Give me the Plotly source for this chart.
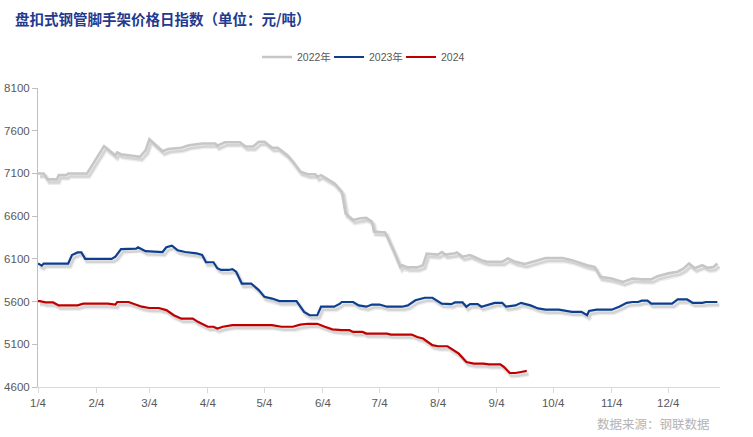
import pandas as pd
import plotly.graph_objects as go

# ---------------- data ----------------
BASE_YEAR = "2023"   # common month/day axis

dates_2022 = ["01-04","01-07","01-09","01-14","01-15","01-19","01-20","01-30","02-08","02-14",
              "02-15","02-17","02-27","03-02","03-04","03-11","03-14","03-21","03-25","04-01",
              "04-08","04-09","04-13","04-21","04-24","04-28","05-01","05-04","05-08","05-11",
              "05-16","05-19","05-23","05-27","05-31","06-01","06-03","06-06","06-10","06-14",
              "06-16","06-20","06-24","06-27","06-30","07-01","07-07","07-12","07-15","07-16",
              "07-19","07-24","07-27","07-29","08-04","08-06","08-08","08-13","08-14","08-17",
              "08-21","08-27","08-30","09-07","09-10","09-14","09-19","09-26","09-30","10-09",
              "10-14","10-22","10-26","10-29","11-04","11-10","11-15","11-20","11-25","11-28",
              "12-04","12-09","12-12","12-15","12-18","12-22","12-25","12-28","12-30"]
values_2022 = [7100, 7100, 7030, 7030, 7080, 7080, 7100, 7100, 7420, 7310,
               7345, 7325, 7295, 7370, 7500, 7360, 7385, 7400, 7430, 7450,
               7450, 7425, 7465, 7465, 7415, 7415, 7470, 7470, 7400, 7400,
               7315, 7240, 7120, 7090, 7090, 7060, 7080, 7040, 6985, 6885,
               6630, 6555, 6575, 6580, 6535, 6420, 6410, 6165, 6005, 6025,
               6000, 6000, 6025, 6160, 6150, 6180, 6150, 6165, 6175, 6125,
               6145, 6085, 6065, 6065, 6105, 6065, 6040, 6085, 6110, 6110,
               6085, 6025, 6005, 5890, 5870, 5830, 5870, 5860, 5860, 5895,
               5930, 5950, 5985, 6045, 5990, 6025, 5995, 6005, 6045]

dates_2023 = ["01-04","01-06","01-07","01-20","01-22","01-25","01-27","01-29","02-12","02-14",
              "02-17","02-25","02-26","03-02","03-11","03-13","03-16","03-19","03-23","03-29",
              "04-01","04-03","04-07","04-09","04-11","04-15","04-17","04-19","04-22","04-27",
              "05-01","05-04","05-08","05-12","05-21","05-23","05-25","05-28","06-01","06-03",
              "06-10","06-13","06-14","06-20","06-23","06-27","06-30","07-04","07-06","07-08",
              "07-16","07-19","07-23","07-28","08-01","08-03","08-06","08-11","08-13","08-17",
              "08-19","08-21","08-25","08-27","08-31","09-03","09-07","09-09","09-14","09-17",
              "09-22","09-26","09-30","10-07","10-14","10-19","10-22","10-23","10-27","11-04",
              "11-08","11-12","11-15","11-18","11-20","11-23","11-25","12-06","12-09","12-14",
              "12-17","12-22","12-24","12-30"]
values_2023 = [6045, 6020, 6045, 6045, 6145, 6175, 6175, 6100, 6100, 6125,
               6215, 6220, 6235, 6190, 6180, 6235, 6255, 6200, 6180, 6165,
               6145, 6060, 6060, 5990, 5970, 5970, 5980, 5950, 5810, 5810,
               5735, 5655, 5635, 5605, 5605, 5540, 5480, 5440, 5440, 5540,
               5540, 5575, 5595, 5595, 5555, 5540, 5565, 5565, 5555, 5540,
               5540, 5555, 5615, 5645, 5645, 5615, 5575, 5570, 5590, 5590,
               5540, 5570, 5570, 5540, 5570, 5585, 5585, 5540, 5555, 5585,
               5555, 5520, 5505, 5505, 5480, 5480, 5440, 5490, 5505, 5505,
               5540, 5585, 5595, 5595, 5610, 5610, 5575, 5575, 5625, 5625,
               5585, 5585, 5595, 5595]

dates_2024 = ["01-04","01-05","01-08","01-12","01-15","01-25","01-28","02-10","02-14","02-15",
              "02-21","02-24","02-28","03-04","03-09","03-13","03-17","03-21","03-27","03-30",
              "04-02","04-04","04-07","04-09","04-12","04-17","05-08","05-13","05-19","05-23",
              "05-27","06-01","06-05","06-09","06-14","06-18","06-20","06-25","06-27","07-04",
              "07-06","07-08","07-10","07-21","07-24","07-27","08-01","08-04","08-09","08-12",
              "08-15","08-19","08-23","08-28","08-31","09-06","09-08","09-11","09-14","09-17",
              "09-20"]
values_2024 = [5605, 5605, 5590, 5590, 5555, 5555, 5575, 5575, 5565, 5595,
               5595, 5575, 5540, 5525, 5525, 5500, 5440, 5400, 5400, 5360,
               5330, 5305, 5305, 5285, 5305, 5325, 5325, 5305, 5305, 5330,
               5340, 5340, 5305, 5275, 5265, 5265, 5245, 5245, 5225, 5225,
               5218, 5225, 5214, 5214, 5186, 5167, 5090, 5077, 5077, 5030,
               4990, 4893, 4874, 4874, 4866, 4866, 4834, 4764, 4764, 4776,
               4788]

series_names = ["2022年", "2023年", "2024"]
series_colors = ["#c6c6c6", "#0d3f8f", "#c00000"]
series_widths = [2.6, 2.2, 2.2]

tick_months = list(range(1, 13))
y_min, y_max, y_step = 4600, 8100, 500

# ---------------- figure ----------------
FIG_W, FIG_H = 753, 437
ML, MR, MT, MB = 38, 33, 88, 50
plot_w, plot_h = FIG_W - ML - MR, FIG_H - MT - MB

x_start = pd.Timestamp(BASE_YEAR + "-01-04")
x_end = pd.Timestamp(BASE_YEAR + "-12-31") + pd.Timedelta(hours=10)

# shadow offset (pixels -> axis units), applied by shifting the hidden base axes
days_span = (x_end - x_start) / pd.Timedelta(days=1)
shadow_dx_px, shadow_dy_px = 2.0, 3.0
dx = pd.Timedelta(days=days_span * shadow_dx_px / plot_w)
dy = (y_max - y_min) * shadow_dy_px / plot_h

all_dates = [dates_2022, dates_2023, dates_2024]
all_vals = [values_2022, values_2023, values_2024]

fig = go.Figure()

# shadows (on hidden, shifted base axes)
for d, v in zip(all_dates, all_vals):
    xs = [BASE_YEAR + "-" + s for s in d]
    fig.add_trace(go.Scatter(x=xs, y=v, mode="lines", showlegend=False, hoverinfo="skip",
                             line=dict(color="rgba(0,0,0,0.07)", width=5),
                             xaxis="x", yaxis="y"))
    fig.add_trace(go.Scatter(x=xs, y=v, mode="lines", showlegend=False, hoverinfo="skip",
                             line=dict(color="rgba(0,0,0,0.10)", width=2.5),
                             xaxis="x", yaxis="y"))

# main lines (on visible axes)
for d, v, name, col, w in zip(all_dates, all_vals, series_names, series_colors, series_widths):
    xs = [BASE_YEAR + "-" + s for s in d]
    fig.add_trace(go.Scatter(x=xs, y=v, mode="lines", name=name,
                             line=dict(color=col, width=w),
                             xaxis="x2", yaxis="y2"))

tickvals = [f"{BASE_YEAR}-{m:02d}-04" for m in tick_months]
axis_font = dict(family="Liberation Sans, Arial, sans-serif", size=11.5, color="#595959")

fig.update_layout(
    width=FIG_W, height=FIG_H,
    margin=dict(l=ML, r=MR, t=MT, b=MB, autoexpand=False),
    paper_bgcolor="white", plot_bgcolor="white",
    hovermode=False,
    xaxis=dict(visible=False, type="date", automargin=False,
               range=[x_start - dx, x_end - dx], fixedrange=True),
    yaxis=dict(visible=False, automargin=False,
               range=[y_min + dy, y_max + dy], fixedrange=True),
    xaxis2=dict(overlaying="x", type="date", side="bottom", anchor="y2", automargin=False,
                range=[x_start, x_end], tickvals=tickvals, tickformat="%-m/%-d",
                showgrid=False, zeroline=False, showline=True, linecolor="#d9d9d9",
                linewidth=1, ticks="outside", ticklen=5, tickcolor="#d9d9d9",
                tickfont=axis_font, fixedrange=True),
    yaxis2=dict(overlaying="y", side="left", anchor="x2", automargin=False,
                range=[y_min, y_max], tick0=y_min, dtick=y_step,
                showgrid=False, zeroline=False, showline=True, linecolor="#bfbfbf",
                linewidth=1, ticks="outside", ticklen=5, tickcolor="#bfbfbf",
                tickfont=axis_font, fixedrange=True),
    legend=dict(orientation="h", x=(365 - ML) / plot_w, xanchor="center",
                y=1 + 31 / plot_h, yanchor="middle",
                font=dict(family="Liberation Sans, Noto Sans CJK SC, sans-serif",
                          size=10.5, color="#595959"),
                bgcolor="rgba(0,0,0,0)", itemwidth=30, tracegroupgap=0,
                entrywidth=27, entrywidthmode="pixels"),
    title=dict(text="<b>盘扣式钢管脚手架价格日指数（单位：元/吨）</b>",
               xref="container", yref="container", x=15 / FIG_W, xanchor="left",
               y=1 - 20 / FIG_H, yanchor="middle", pad=dict(l=0, r=0, t=0, b=0),
               font=dict(family="Noto Sans CJK SC", size=14.5, color="#1f3a8f")),
    annotations=[dict(text="数据来源：钢联数据", xref="paper", yref="paper",
                      x=(712 - ML) / plot_w, xanchor="right", y=-(423 - 387) / plot_h,
                      yanchor="middle", showarrow=False,
                      font=dict(family="Noto Sans CJK SC", size=12.5, color="#b4b4b4"))],
    showlegend=True,
)

# remove the default 8px page margin so the figure fills the window exactly
fig.write_html("out.html",
               config={"displayModeBar": False, "staticPlot": False},
               post_script="document.body.style.margin='0';document.body.style.padding='0';")
